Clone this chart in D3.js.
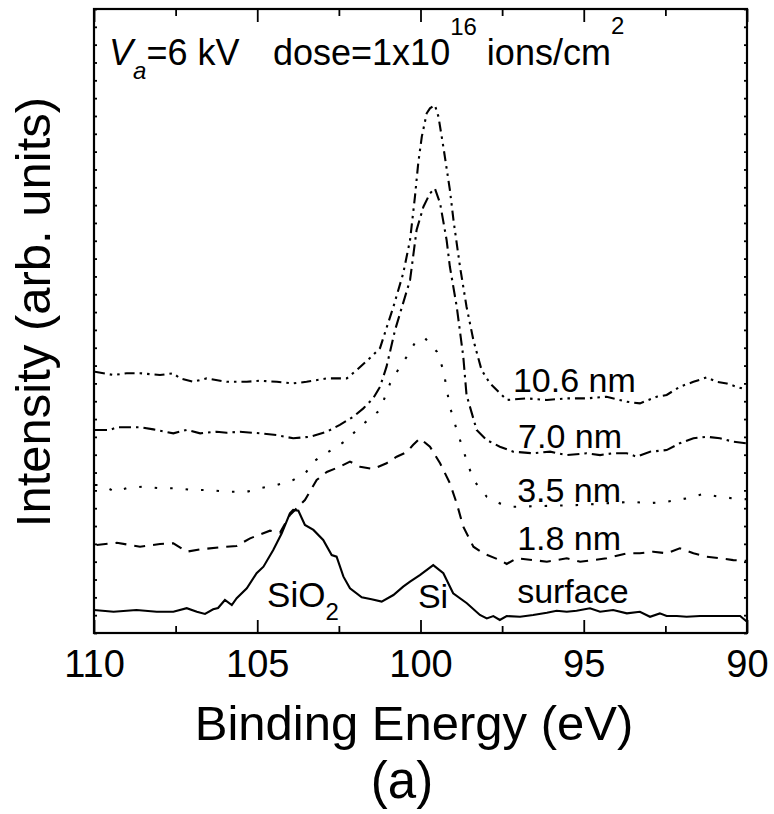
<!DOCTYPE html>
<html>
<head>
<meta charset="utf-8">
<script src="https://cdn.jsdelivr.net/npm/d3@7"></script>
<style>
  body { margin: 0; background: #fff; }
  text { font-family: "Liberation Sans", Arial, sans-serif; fill: #000; }
</style>
</head>
<body>
<div id="chart"></div>
<script>
// spectra: [binding energy (eV), intensity (arb. units, offset)]
const surface = [[110.0,1.29],[109.4,1.19],[108.7,1.29],[108.08,1.19],[107.57,1.19],[107.16,1.39],[106.85,1.19],[106.6,1.07],[106.35,1.33],[106.2,1.40],[105.99,1.85],[105.78,1.57],[105.63,1.95],[105.32,2.51],[105.02,3.35],[104.81,3.72],[104.51,4.66],[104.25,5.59],[104.0,6.71],[103.9,6.90],[103.74,6.86],[103.54,6.06],[103.28,5.78],[102.98,5.22],[102.72,4.37],[102.57,4.28],[102.36,3.16],[102.16,2.51],[101.8,2.0],[101.5,1.89],[101.19,1.76],[100.83,2.13],[100.53,2.60],[100.32,2.88],[100.02,3.25],[99.61,3.81],[99.3,3.35],[99.0,2.23],[98.58,1.67],[98.18,1.01],[97.97,0.82],[97.77,0.95],[97.57,0.73],[97.36,0.95],[96.95,0.91],[96.55,1.01],[96.13,1.14],[95.83,1.25],[95.52,1.19],[95.22,1.25],[94.81,1.39],[94.5,1.19],[94.1,1.29],[93.68,1.10],[93.28,1.19],[92.97,0.91],[92.67,1.10],[92.46,0.95],[92.15,0.95],[91.85,0.91],[91.44,0.95],[91.03,0.95],[90.62,0.95],[90.21,0.95],[90.0,0.63]];

const nm18 = [[109.92,4.94],[109.30,5.06],[108.59,4.84],[107.98,4.99],[107.57,5.03],[107.16,4.56],[106.75,4.69],[106.14,4.81],[105.63,4.88],[105.22,5.31],[104.61,5.74],[104.30,5.63],[104.0,6.62],[103.69,7.18],[103.54,7.46],[103.18,8.58],[102.87,9.03],[102.47,9.33],[102.16,9.61],[101.85,9.33],[101.45,9.20],[101.04,9.52],[100.73,9.89],[100.42,10.15],[100.23,10.54],[100.02,10.92],[99.71,10.45],[99.40,9.52],[99.10,8.40],[98.89,7.27],[98.69,5.96],[98.38,4.84],[98.08,4.47],[97.57,4.09],[97.36,3.87],[97.06,4.19],[96.55,4.09],[96.13,4.00],[95.52,4.19],[95.11,4.00],[94.70,4.09],[94.30,4.19],[93.68,4.47],[93.28,4.47],[92.87,4.56],[92.46,4.47],[92.06,4.75],[91.64,4.47],[91.23,4.28],[90.83,4.19],[90.42,4.09],[90.01,4.05]];

const nm35 = [[109.97,8.30],[109.76,8.30],[109.36,7.92],[109.0,8.12],[108.49,8.21],[107.98,8.12],[107.47,8.12],[106.96,8.02],[106.45,8.02],[105.94,7.92],[105.32,7.92],[104.92,8.12],[104.40,8.30],[103.90,8.58],[103.49,9.05],[103.28,9.61],[102.98,9.98],[102.57,10.45],[102.26,10.82],[101.85,11.57],[101.24,12.51],[100.93,14.0],[100.63,14.94],[100.42,15.5],[100.12,16.43],[99.86,16.53],[99.50,15.78],[99.30,14.75],[99.10,12.69],[98.89,11.39],[98.59,9.70],[98.38,8.58],[97.97,7.64],[97.57,7.27],[97.16,7.08],[96.34,7.12],[95.11,7.18],[94.20,7.29],[93.48,7.36],[93.07,7.27],[92.46,7.36],[91.85,7.55],[91.34,7.80],[90.83,7.64],[90.42,7.55],[90.01,7.50]];

const nm70 = [[109.97,11.39],[109.51,11.39],[109.30,11.54],[108.59,11.54],[108.18,11.42],[107.57,11.20],[107.16,11.39],[106.75,11.20],[106.24,11.29],[105.94,11.23],[105.53,11.29],[104.92,11.20],[104.40,11.10],[103.90,10.92],[103.38,11.01],[102.87,11.29],[102.47,11.67],[102.06,12.13],[101.75,12.60],[101.45,13.16],[101.24,13.81],[101.04,14.94],[100.78,16.99],[100.32,19.80],[100.12,22.60],[99.91,23.91],[99.71,24.66],[99.56,24.94],[99.40,24.10],[99.20,22.04],[99.10,20.54],[98.89,18.30],[98.69,15.50],[98.59,13.35],[98.28,11.39],[97.97,10.82],[97.57,10.45],[97.16,10.17],[96.55,10.08],[96.03,10.17],[95.52,9.98],[94.91,10.08],[94.50,9.98],[94.10,10.08],[93.68,10.08],[93.38,9.89],[92.97,10.17],[92.46,10.26],[92.06,10.64],[91.64,10.92],[91.23,11.01],[90.83,10.92],[90.42,10.73],[90.01,10.64]];

const nm106 = [[109.97,14.65],[109.41,14.47],[109.0,14.57],[108.59,14.57],[107.98,14.47],[107.57,14.57],[107.37,14.28],[106.96,14.09],[106.55,14.28],[105.94,14.09],[105.32,14.09],[104.92,14.15],[104.40,14.09],[103.90,14.00],[103.49,14.09],[102.87,14.28],[102.26,14.28],[101.95,14.75],[101.55,15.42],[101.24,15.98],[100.83,18.30],[100.53,20.17],[100.32,22.04],[100.17,24.47],[100.07,26.34],[99.96,27.84],[99.81,29.15],[99.71,29.43],[99.56,29.61],[99.45,28.96],[99.30,27.27],[99.10,24.85],[98.99,23.16],[98.79,20.54],[98.59,18.30],[98.38,16.43],[98.13,14.75],[97.87,14.0],[97.36,13.07],[96.75,13.16],[96.13,13.07],[95.52,13.16],[94.91,13.16],[94.30,13.25],[93.68,12.97],[93.28,12.88],[92.77,13.25],[92.46,13.35],[92.06,13.81],[91.64,14.09],[91.23,14.34],[90.93,14.09],[90.62,14.0],[90.32,13.81],[90.06,13.67]];

const xMajorTicks = [110, 105, 100, 95, 90];
const xMinorTicks = [107.5, 102.5, 97.5, 92.5];
const yTicks = d3.range(0, 36, 1);

// curve name, label, data and line style
const series = [
  {name: "surface", label: "surface", data: surface, dash: null},
  {name: "1.8 nm", label: "1.8 nm", data: nm18, dash: "11,8"},
  {name: "3.5 nm", label: "3.5 nm", data: nm35, dash: "2.5,13"},
  {name: "7.0 nm", label: "7.0 nm", data: nm70, dash: "12,5,2.5,5"},
  {name: "10.6 nm", label: "10.6 nm", data: nm106, dash: "10,5,2.5,5,2.5,5"}
];

// where the curve labels sit (data coords, left/baseline)
const labelPos = {"10.6 nm": [97.17, 13.52], "7.0 nm": [97.01, 10.38], "3.5 nm": [97.04, 7.35], "1.8 nm": [97.04, 4.66], "surface": [97.04, 1.68]};

const w = 774, h = 814;
const mLeft = 94, mRight = 747, mTop = 9, mBottom = 633;

const x = d3.scaleLinear().domain([110, 90]).range([mLeft, mRight]);
const y = d3.scaleLinear().domain([0, 35]).range([mBottom, mTop]);

const svg = d3.select("#chart").append("svg")
  .attr("width", w).attr("height", h);

// curves
const line = d3.line().x(d => x(d[0])).y(d => y(d[1]));
svg.selectAll("path.curve")
  .data(series)
  .enter().append("path")
  .attr("class", "curve")
  .attr("d", d => line(d.data))
  .attr("fill", "none")
  .attr("stroke", "#000")
  .attr("stroke-width", 2.1)
  .attr("stroke-dasharray", d => d.dash);

// axes, ticks point inward
const axisFont = 38;
const xb = svg.append("g").attr("transform", "translate(0," + mBottom + ")")
  .call(d3.axisBottom(x).tickValues(xMajorTicks).tickSize(-13).tickSizeOuter(0).tickPadding(17).tickFormat(d3.format("d")));
svg.append("g").attr("transform", "translate(0," + mBottom + ")")
  .call(d3.axisBottom(x).tickValues(xMinorTicks).tickSize(-7).tickSizeOuter(0).tickFormat(""));
svg.append("g").attr("transform", "translate(0," + mTop + ")")
  .call(d3.axisTop(x).tickValues(xMajorTicks).tickSize(-13).tickSizeOuter(0).tickFormat(""));
svg.append("g").attr("transform", "translate(0," + mTop + ")")
  .call(d3.axisTop(x).tickValues(xMinorTicks).tickSize(-7).tickSizeOuter(0).tickFormat(""));
svg.append("g").attr("transform", "translate(" + mLeft + ",0)")
  .call(d3.axisLeft(y).tickValues(yTicks).tickSize(-3).tickSizeOuter(0).tickFormat(""));
svg.append("g").attr("transform", "translate(" + mRight + ",0)")
  .call(d3.axisRight(y).tickValues(yTicks).tickSize(-3).tickSizeOuter(0).tickFormat(""));

svg.selectAll(".domain").remove();
svg.selectAll(".tick line").attr("stroke", "#000").attr("stroke-width", 1.8);
xb.selectAll(".tick text")
  .attr("font-size", axisFont)
  .attr("font-family", "Liberation Sans, Arial, sans-serif");

// frame
svg.append("rect")
  .attr("x", mLeft).attr("y", mTop)
  .attr("width", mRight - mLeft).attr("height", mBottom - mTop)
  .attr("fill", "none").attr("stroke", "#000").attr("stroke-width", 2.2);

// curve labels
svg.selectAll("text.lbl")
  .data(series)
  .enter().append("text")
  .attr("class", "lbl")
  .attr("x", d => x(labelPos[d.name][0]))
  .attr("y", d => y(labelPos[d.name][1]))
  .attr("font-size", 34)
  .text(d => d.label);

// peak labels
svg.append("text")
  .attr("x", x(100.08)).attr("y", y(1.40))
  .attr("font-size", 34)
  .text("Si");
const sio2 = svg.append("text")
  .attr("x", x(104.70)).attr("y", y(1.46))
  .attr("font-size", 35)
  .text("SiO");
sio2.append("tspan").attr("font-size", 24).attr("dy", 13).text("2");

// title line
const t1 = svg.append("text").attr("x", 109).attr("y", 65).attr("font-size", 36);
t1.append("tspan").attr("font-style", "italic").text("V");
t1.append("tspan").attr("font-style", "italic").attr("font-size", 24).attr("dy", 14).text("a");
t1.append("tspan").attr("dy", -14).text("=6 kV");

const t2 = svg.append("text").attr("x", 273).attr("y", 65).attr("font-size", 36);
t2.append("tspan").text("dose=1x10");
t2.append("tspan").attr("font-size", 24).attr("dy", -30).text("16");
t2.append("tspan").attr("dy", 30).text(" ions/cm");
t2.append("tspan").attr("font-size", 24).attr("dy", -31).text("2");

// axis titles
svg.append("text")
  .attr("x", 414).attr("y", 740)
  .attr("text-anchor", "middle")
  .attr("font-size", 49)
  .text("Binding Energy (eV)");

svg.append("text")
  .attr("x", 402).attr("y", 798)
  .attr("text-anchor", "middle")
  .attr("font-size", 51)
  .text("(a)");

svg.append("text")
  .attr("transform", "translate(50,312) rotate(-90)")
  .attr("text-anchor", "middle")
  .attr("font-size", 49)
  .text("Intensity (arb. units)");
</script>
</body>
</html>
